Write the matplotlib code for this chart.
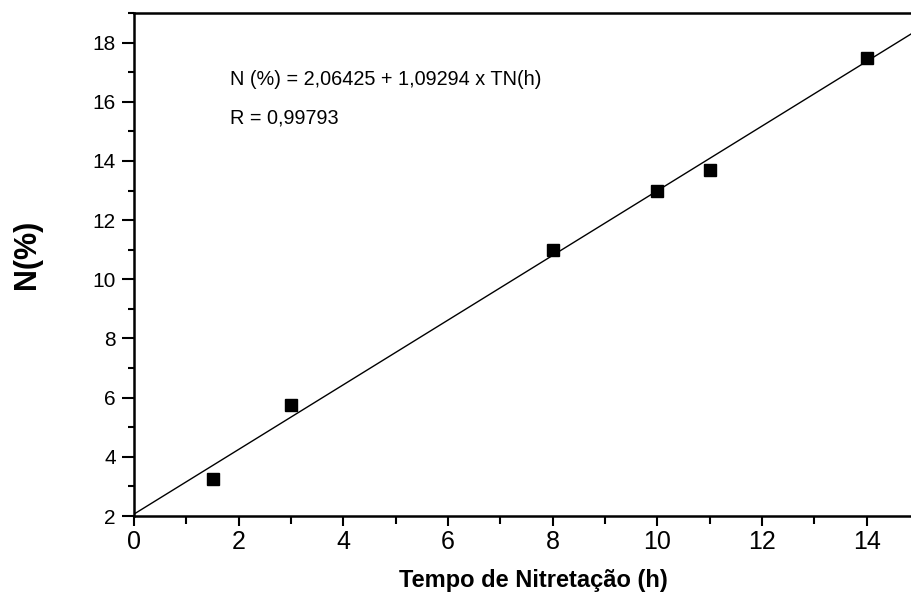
import numpy as np
import matplotlib
matplotlib.use('Agg')
import matplotlib.pyplot as plt
from matplotlib.ticker import MultipleLocator

# dados
tempo_h = [1.5, 3.0, 8.0, 10.0, 11.0, 14.0]
nitrogenio = [3.25, 5.75, 11.0, 13.0, 13.7, 17.47]

# ajuste linear (coeficientes do próprio gráfico)
intercepto = 2.06425
inclinacao = 1.09294
txt_ajuste = 'N (%) = 2,06425 + 1,09294 x TN(h)'
txt_r = 'R = 0,99793'

plt.rcParams['font.family'] = ['Liberation Sans', 'DejaVu Sans']

fig = plt.figure(figsize=(9.11, 5.96), dpi=100)
ax = fig.add_axes([134 / 911, 80 / 596, 1 - 134 / 911, (516 - 13) / 596])

xmax = 14.846
ax.set_xlim(0, xmax)
ax.set_ylim(2, 19)

# reta de ajuste
xs = np.array([0, xmax])
ax.plot(xs, intercepto + inclinacao * xs, color='black', linewidth=1.0)
ax.plot(tempo_h, nitrogenio, 's', color='black', markersize=9, zorder=3)

ax.text(0.123, 0.867, txt_ajuste, transform=ax.transAxes, fontsize=14.3,
        va='center', ha='left')
ax.text(0.123, 0.791, txt_r, transform=ax.transAxes, fontsize=14.3,
        va='center', ha='left')

for s in ['left', 'bottom', 'top']:
    ax.spines[s].set_linewidth(1.8)
ax.spines['right'].set_visible(False)

ax.xaxis.set_major_locator(MultipleLocator(2))
ax.xaxis.set_minor_locator(MultipleLocator(1))
ax.yaxis.set_major_locator(MultipleLocator(2))
ax.yaxis.set_minor_locator(MultipleLocator(1))
ax.tick_params(axis='x', which='major', length=7, width=1.5, pad=3, labelsize=18)
ax.tick_params(axis='x', which='minor', length=6, width=1.5)
ax.tick_params(axis='y', which='major', length=9, width=1.5, pad=4, labelsize=15)
ax.tick_params(axis='y', which='minor', length=4, width=1.5)

fig.text(27 / 911, 1 - 254 / 596, 'N(%)', rotation=90, fontsize=22,
         fontweight='bold', ha='center', va='center')
fig.text(533 / 911, 1 - 580 / 596, 'Tempo de Nitretação (h)', fontsize=17,
         fontweight='bold', ha='center', va='center')

fig.savefig('out.png', dpi=100)
